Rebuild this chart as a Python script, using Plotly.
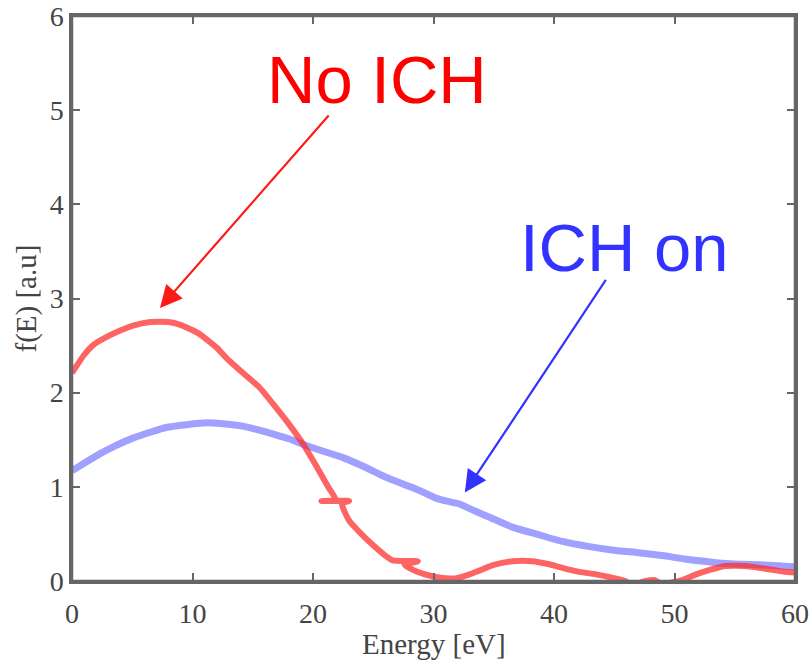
import plotly.graph_objects as go

# Energy distribution without ion cyclotron heating
energy_no_ich = [0, 1, 1.8, 3, 4, 5, 6.5, 8, 9, 10.5, 12, 12.8, 14, 15.6, 17, 17.8,
                 19.2, 20.5, 21.3, 21.9, 20.7, 23.0, 22.4, 23.0, 24, 24.9, 26, 26.6,
                 28.7, 27.6, 28.6, 29.9, 31, 31.9, 33, 33.8, 35, 36.6, 38.2, 39.5,
                 40.7, 42, 43.5, 45, 45.9, 46.5, 47.6, 48.3, 49.0, 50.4, 51.8, 53,
                 54.2, 55.9, 57, 58.1, 59, 60]
f_no_ich = [2.21, 2.40, 2.51, 2.60, 2.66, 2.71, 2.75, 2.75, 2.72, 2.63, 2.48, 2.37,
            2.23, 2.05, 1.83, 1.70, 1.45, 1.17, 0.99, 0.86, 0.85, 0.85, 0.82, 0.64,
            0.50, 0.39, 0.27, 0.22, 0.21, 0.17, 0.10, 0.05, 0.03, 0.03, 0.07, 0.11,
            0.17, 0.21, 0.21, 0.18, 0.14, 0.10, 0.07, 0.03, 0.0, -0.04, 0.0, 0.01,
            -0.03, 0.0, 0.07, 0.12, 0.16, 0.16, 0.14, 0.12, 0.10, 0.09]

# Energy distribution with ion cyclotron heating on
energy_ich_on = [0, 1, 2.3, 3.5, 5.1, 6.5, 7.8, 9.5, 11.2, 12.5, 13.9, 15.3, 16.7,
                 18, 19.2, 20.8, 22.5, 24.3, 26.1, 28.3, 29.7, 30.2, 31, 32.1, 33.5,
                 34.6, 36.6, 38.5, 40.7, 42.7, 44.8, 47, 49, 51, 53.1, 55, 57.5, 60]
f_ich_on = [1.17, 1.25, 1.35, 1.43, 1.52, 1.58, 1.63, 1.66, 1.68, 1.67, 1.65, 1.61,
            1.56, 1.51, 1.45, 1.38, 1.31, 1.21, 1.10, 0.99, 0.91, 0.88, 0.85, 0.82,
            0.74, 0.68, 0.57, 0.50, 0.42, 0.37, 0.33, 0.30, 0.27, 0.23, 0.20, 0.18,
            0.17, 0.15]

x_ticks = [0, 10, 20, 30, 40, 50, 60]
y_ticks = [0, 1, 2, 3, 4, 5, 6]

serif = "Liberation Serif, Times New Roman, serif"
sans = "Liberation Sans, Arial, sans-serif"

fig = go.Figure()
fig.add_trace(go.Scatter(x=energy_ich_on, y=f_ich_on, mode="lines",
                         line=dict(color="rgba(120,120,255,0.7)", width=7,
                                   shape="spline", smoothing=0.5),
                         name="ICH on", showlegend=False))
fig.add_trace(go.Scatter(x=energy_no_ich, y=f_no_ich, mode="lines",
                         line=dict(color="rgba(255,40,40,0.72)", width=6,
                                   shape="spline", smoothing=0.5),
                         name="No ICH", showlegend=False))

axis_common = dict(showline=True, mirror="ticks", linecolor="#666", linewidth=2.5,
                   ticks="inside", ticklen=8, tickcolor="#666", tickwidth=2,
                   showgrid=False, zeroline=False, automargin=False,
                   ticklabeloverflow="allow",
                   tickfont=dict(family=serif, size=28, color="#444"))

fig.update_xaxes(range=[0, 60], tickvals=x_ticks, ticklabelstandoff=6, **axis_common)
fig.update_yaxes(range=[0, 6], tickvals=y_ticks, **axis_common)

# Box frame around the plotting area
fig.add_shape(type="rect", xref="paper", yref="paper", x0=0, y0=0, x1=1, y1=1,
              line=dict(color="#666", width=2.5), layer="above")

# Arrow pointing at the curve without heating
fig.add_annotation(x=7.3, y=2.9, ax=170, ay=-194, axref="pixel", ayref="pixel",
                   showarrow=True, arrowhead=2, arrowsize=2.0, arrowwidth=2.2,
                   arrowcolor="#ff1a1a", text="")
fig.add_annotation(x=25.35, y=5.33, text="No ICH", showarrow=False,
                   font=dict(family=sans, size=67, color="#ff0000"),
                   xanchor="center", yanchor="middle")

# Arrow pointing at the curve with heating on
fig.add_annotation(x=32.6, y=0.94, ax=142, ay=-214, axref="pixel", ayref="pixel",
                   showarrow=True, arrowhead=2, arrowsize=2.0, arrowwidth=2.2,
                   arrowcolor="#3333ff", text="")
fig.add_annotation(x=45.85, y=3.545, text="ICH on", showarrow=False,
                   font=dict(family=sans, size=67, color="#3333ff"),
                   xanchor="center", yanchor="middle")

# Axis titles
fig.add_annotation(x=-0.0636, y=0.5, xref="paper", yref="paper", text="f(E) [a.u]",
                   textangle=-90, showarrow=False, xanchor="center", yanchor="middle",
                   font=dict(family=serif, size=29, color="#444"))
fig.add_annotation(x=0.5, y=-0.112, xref="paper", yref="paper", text="Energy [eV]",
                   showarrow=False, xanchor="center", yanchor="middle",
                   font=dict(family=serif, size=29, color="#444"))

fig.update_layout(width=812, height=660,
                  margin=dict(l=72, r=17, t=16, b=79),
                  plot_bgcolor="white", paper_bgcolor="white")

fig.write_html("out.html")
